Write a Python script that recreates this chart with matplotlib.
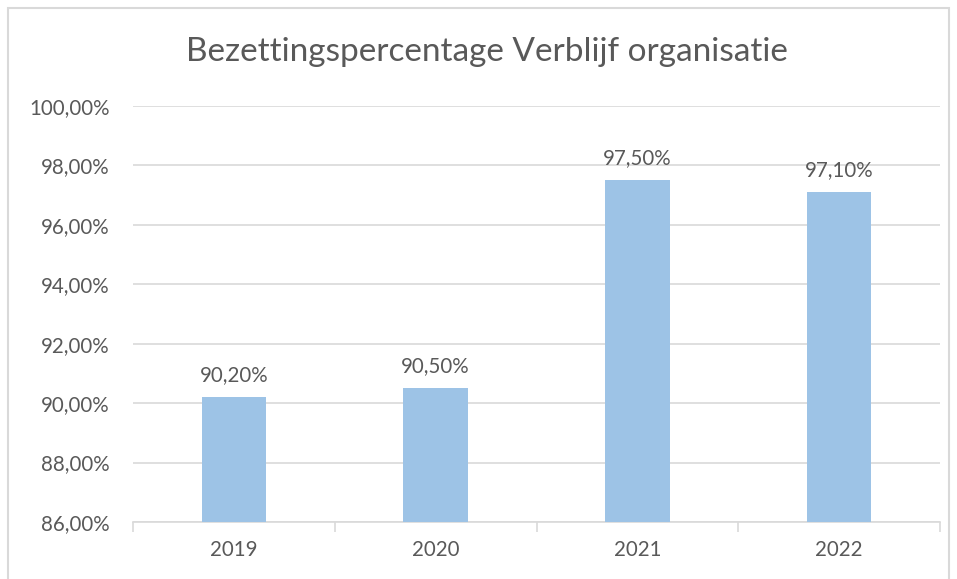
import matplotlib
matplotlib.use("Agg")
import matplotlib.pyplot as plt
from matplotlib.patches import Rectangle
from matplotlib.ticker import FuncFormatter, FixedLocator

years = ["2019", "2020", "2021", "2022"]
values = [90.2, 90.5, 97.5, 97.1]
labels = ["90,20%", "90,50%", "97,50%", "97,10%"]
title = "Bezettingspercentage Verblijf organisatie"

W, H = 957, 579
fig = plt.figure(figsize=(W / 100, H / 100), dpi=100)
plt.rcParams['font.family'] = ['Lato', 'DejaVu Sans']
txt = "#595959"
grid = "#D9D9D9"

# chart frame
fig.patches.append(Rectangle((8 / W, -0.05), (949 - 8) / W, 1.05 - 8 / H,
                             transform=fig.transFigure, fill=False,
                             edgecolor=grid, linewidth=1.5))

ax = fig.add_axes([133 / W, 1 - 522 / H, (940 - 133) / W, (522 - 106) / H])
x = list(range(len(years)))
bars = ax.bar(x, values, width=0.32, color="#9DC3E6", zorder=3)
ax.set_ylim(86, 100)
ax.set_xlim(-0.5, len(years) - 0.5)
ax.set_yticks([86, 88, 90, 92, 94, 96, 98, 100])
ax.yaxis.set_major_formatter(FuncFormatter(lambda v, p: f"{v:.2f}".replace(".", ",") + "%"))
ax.grid(axis="y", color=grid, linewidth=1.2, zorder=0)
for s in ["top", "right", "left"]:
    ax.spines[s].set_visible(False)
ax.spines["bottom"].set_color(grid)
ax.spines["bottom"].set_linewidth(1.2)
ax.tick_params(axis="y", length=0, pad=17, labelsize=14.8, labelcolor=txt)
ax.set_xticks(x)
ax.set_xticklabels(years)
ax.tick_params(axis="x", length=0, pad=13, labelsize=14.8, labelcolor=txt)
ax.xaxis.set_minor_locator(FixedLocator([-0.5, 0.5, 1.5, 2.5, 3.5]))
ax.tick_params(axis="x", which="minor", length=7, color=grid, width=1.2)

for xi, v, lab in zip(x, values, labels):
    ax.annotate(lab, (xi, v), xytext=(0, 16), textcoords="offset points",
                ha="center", va="center", fontsize=14.8, color=txt)

fig.text(0.509, 1 - 52 / H, title, ha="center", va="center", fontsize=24, color=txt)

fig.savefig("out.png", dpi=100)
